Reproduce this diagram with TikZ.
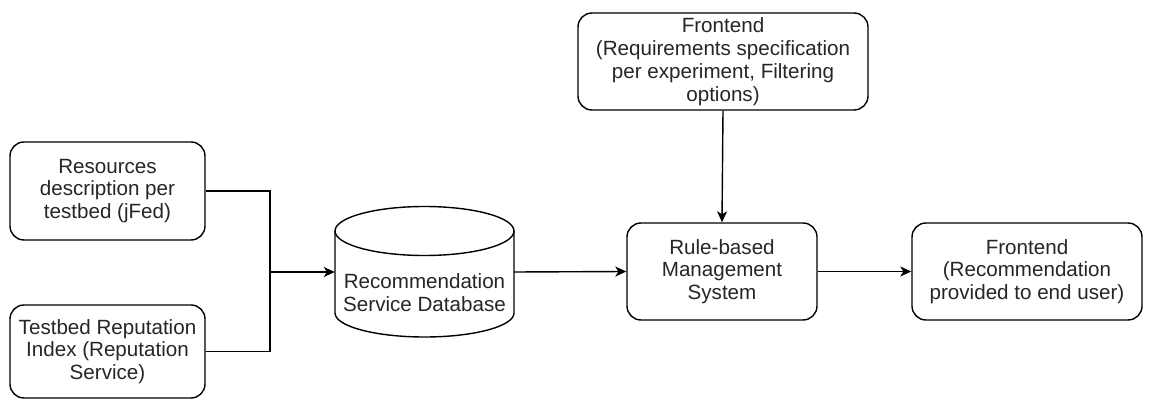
\documentclass[tikz,border=0pt]{standalone}
\usepackage{fontspec}
\setmainfont{Liberation Sans}
\usetikzlibrary{arrows.meta}
\begin{document}
\begin{tikzpicture}[x=1pt,y=1pt,
  txt/.style={align=center,inner sep=0pt,text=black!85,font=\fontsize{20.6}{22.8}\selectfont},
  box/.style={txt,draw=black,line width=1.4pt,rounded corners=14pt,fill=white},
  conn/.style={line width=1.4pt,draw=black},
  arr/.style={conn,-{Stealth[length=11pt,width=10pt,inset=3pt]}}]
\useasboundingbox (0,0) rectangle (1157,-401);
\node[box,minimum width=195pt,minimum height=98pt] (res) at (107.5,-191) {Resources\\description per\\testbed (jFed)};
\node[box,minimum width=195pt,minimum height=93pt] (rep) at (107.5,-351.5) {Testbed Reputation\\Index (Reputation\\Service)};
\node[box,minimum width=290pt,minimum height=97pt] (fe1) at (723,-61.5) {Frontend\\(Requirements specification\\per experiment, Filtering\\options)};
\node[box,minimum width=190pt,minimum height=97pt] (rule) at (722,-271.5) {Rule-based\\Management\\System};
\node[box,minimum width=230pt,minimum height=97pt] (fe2) at (1027,-271.5) {Frontend\\(Recommendation\\provided to end user)};
% cylinder
\node[minimum width=179pt,minimum height=130pt,inner sep=0pt] (db) at (424.5,-272) {};
\draw[conn,fill=white] (335,-231) -- (335,-313) arc[start angle=180,end angle=360,x radius=89.5pt,y radius=24pt] -- (514,-231);
\draw[conn,fill=white] (424.5,-231) ellipse [x radius=89.5pt,y radius=24.5pt];
\node[txt] (dbt) at (424.5,-293) {Recommendation\\Service Database};
\coordinate (j) at (270,-272);
\draw[conn] (res.east) -| (j);
\draw[conn] (rep.east) -| (j);
\draw[arr] (j) -- (db.west);
\draw[arr] (db.east) -- (rule.west);
\draw[arr] (fe1.south) -- (rule.north);
\draw[arr] (rule.east) -- (fe2.west);
\end{tikzpicture}
\end{document}
